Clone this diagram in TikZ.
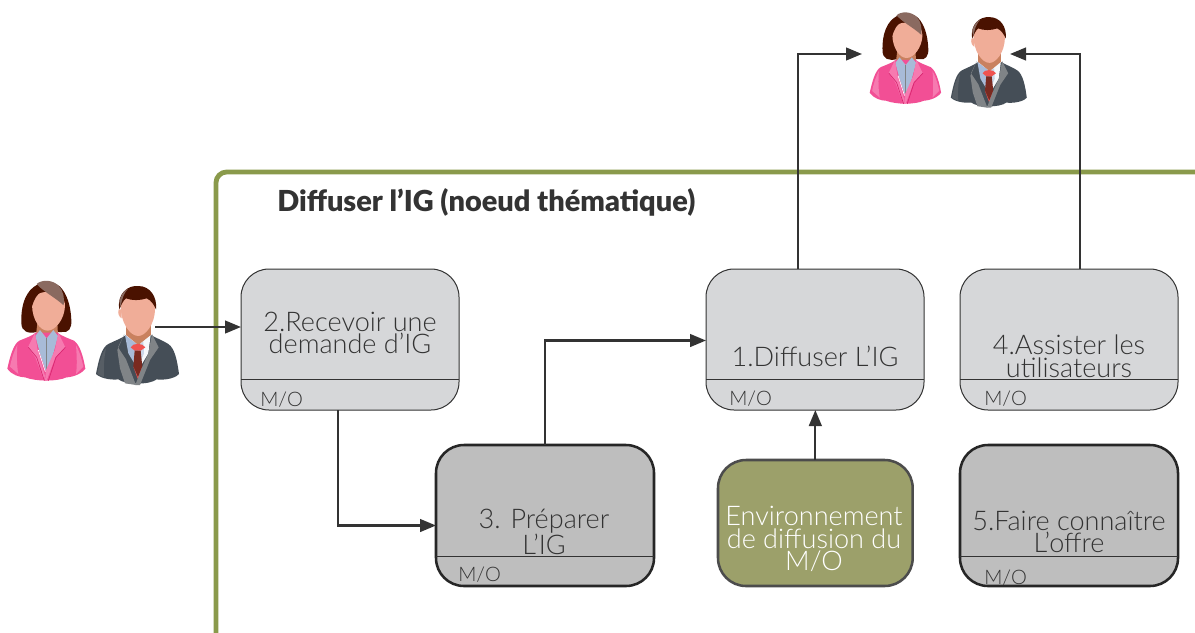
\documentclass[tikz,border=0pt]{standalone}
\usepackage{fontspec}
\setmainfont{Lato Light}[BoldFont=Lato Black]
\usetikzlibrary{arrows.meta,calc}
\definecolor{frameg}{HTML}{8A9A4B}
\definecolor{boxl}{HTML}{D6D7D9}
\definecolor{boxd}{HTML}{BEBEBE}
\definecolor{envg}{HTML}{9CA06A}
\definecolor{ink}{HTML}{333333}
\definecolor{hairw}{HTML}{4A1200}
\definecolor{hairh}{HTML}{8A6A60}
\definecolor{skin}{HTML}{F0AD98}
\definecolor{neck}{HTML}{C9815F}
\definecolor{pink}{HTML}{F24F95}
\definecolor{pinkl}{HTML}{F67AB0}
\definecolor{pinkd}{HTML}{D9246F}
\definecolor{shirt}{HTML}{A8BBD8}
\definecolor{suit}{HTML}{454E57}
\definecolor{lapel}{HTML}{808487}
\definecolor{tier}{HTML}{EF5350}
\definecolor{tied}{HTML}{7A2A20}
\newcommand\people[3]{%
\begin{scope}[shift={(#1,#2)},x=0.25pt,y=-0.25pt,scale=#3]
 % woman
 \fill[hairw] (112,44) .. controls (80,60) and (62,100) .. (64,160) .. controls (65,185) and (85,192) .. (110,186) -- (185,186) .. controls (205,190) and (216,175) .. (214,150) .. controls (212,105) and (200,70) .. (180,50) .. controls (160,32) and (130,34) .. (112,44) -- cycle;
 \fill[neck] (112,160) -- (172,160) -- (174,195) -- (140,225) -- (108,195) -- cycle;
 \fill[pink] (22,296) .. controls (30,260) and (40,222) .. (58,212) .. controls (75,205) and (95,198) .. (108,188) -- (172,188) .. controls (185,198) and (205,205) .. (222,212) .. controls (240,225) and (250,260) .. (256,296) .. controls (240,318) and (205,322) .. (200,322) .. controls (170,335) and (110,335) .. (75,322) .. controls (60,322) and (35,315) .. (22,296) -- cycle;
 \fill[shirt] (106,198) -- (120,180) -- (140,205) -- (160,180) -- (174,198) -- (160,250) -- (140,310) -- (120,250) -- cycle;
 \draw[lapel,line width=.8pt] (140,205) -- (140,300);
 \fill[pinkl] (84,232) -- (105,188) -- (112,235) -- (135,318) -- (132,332) -- (106,262) -- cycle;
 \fill[pinkl] (175,188) -- (196,232) -- (166,262) -- (140,332) -- (135,332) -- (138,300) -- (165,240) -- cycle;
 \draw[pinkd,line width=.5pt] (85,232) -- (110,262) -- (133,332);
 \draw[pinkd,line width=.5pt] (196,232) -- (168,262) -- (145,332);
 \draw[white,line width=.5pt] (115,240) -- (136,305);
 \fill[pinkl] (30,290) .. controls (36,260) and (44,240) .. (52,225) .. controls (50,255) and (50,285) .. (55,312) -- cycle;
 \fill[pinkl] (250,290) .. controls (244,260) and (236,240) .. (228,225) .. controls (230,255) and (232,285) .. (228,312) -- cycle;
 \fill[skin] (96,105) .. controls (97,85) and (110,66) .. (140,66) .. controls (180,66) and (195,85) .. (195,108) .. controls (193,150) and (165,182) .. (143,182) .. controls (120,182) and (97,150) .. (96,105) -- cycle;
 \fill[hairw] (95,112) .. controls (103,85) and (112,72) .. (125,64) -- (112,44) -- (95,70) -- cycle;
 \fill[hairh] (110,42) .. controls (125,28) and (160,28) .. (178,50) .. controls (190,62) and (194,85) .. (191,106) .. controls (165,82) and (130,65) .. (110,42) -- cycle;
 % man
 \fill[neck] (378,150) -- (452,150) -- (452,210) -- (378,210) -- cycle;
 \fill[suit] (288,312) .. controls (296,270) and (305,232) .. (325,222) .. controls (345,212) and (365,205) .. (378,195) -- (452,195) .. controls (470,205) and (490,212) .. (505,222) .. controls (525,235) and (532,275) .. (537,312) .. controls (520,330) and (480,330) .. (470,328) .. controls (450,345) and (375,345) .. (355,328) .. controls (340,330) and (305,328) .. (288,312) -- cycle;
 \fill[lapel!30!suit] (292,312) .. controls (298,280) and (305,250) .. (318,235) .. controls (312,265) and (310,295) .. (312,322) -- cycle;
 \fill[white!90!shirt] (378,195) -- (452,195) -- (445,250) -- (415,300) -- cycle;
 \fill[shirt] (375,195) -- (415,225) -- (415,300) -- (385,250) -- cycle;
 \fill[shirt!60!white] (415,225) -- (430,215) -- (432,250) -- (415,290) -- cycle;
 \fill[neck] (378,185) -- (452,185) -- (452,195) -- (415,225) -- (378,195) -- cycle;
 \fill[tier] (392,232) .. controls (398,218) and (428,218) .. (436,232) -- (422,242) -- (404,242) -- cycle;
 \fill[tied] (404,242) -- (422,242) -- (427,290) -- (414,322) -- (400,290) -- cycle;
 \fill[tier] (400,290) -- (414,322) -- (427,290) -- (414,328) -- cycle;
 \fill[lapel] (373,192) -- (354,232) -- (378,268) -- (408,345) -- (375,340) -- (360,295) -- (352,240) -- cycle;
 \fill[lapel] (456,192) -- (476,232) -- (450,270) -- (420,345) -- (406,345) -- (425,295) -- (445,250) -- cycle;
 \fill[skin] (362,105) .. controls (365,80) and (385,65) .. (415,70) .. controls (450,70) and (465,90) .. (465,115) .. controls (465,165) and (435,198) .. (415,198) .. controls (390,198) and (362,160) .. (362,105) -- cycle;
 \fill[skin] (356,118) .. controls (352,130) and (358,142) .. (365,145) -- (365,118) -- cycle;
 \fill[hairw] (358,118) .. controls (350,70) and (385,45) .. (415,48) .. controls (450,48) and (472,80) .. (468,118) .. controls (462,105) and (455,92) .. (440,85) .. controls (420,92) and (395,92) .. (378,85) .. controls (370,90) and (364,105) .. (358,118) -- cycle;
 \fill[hairh] (358,95) .. controls (362,75) and (372,62) .. (384,56) .. controls (372,70) and (366,85) .. (362,110) -- cycle;
\end{scope}}
\tikzset{
 box/.style={draw=#1,rectangle,rounded corners=21pt,inner sep=0pt,outer sep=0pt,anchor=north west},
 lightbox/.style={box=ink,fill=boxl,line width=.75pt,minimum width=163.5pt,minimum height=105.75pt},
 darkbox/.style={box=black!85,fill=boxd,line width=1.9pt,minimum width=163.5pt,minimum height=105.75pt},
 envbox/.style={box=black!70,fill=envg,line width=1.9pt,minimum width=146pt,minimum height=94.5pt},
 lab/.style={font=\fontsize{20.3}{17}\selectfont,text=ink,align=center,inner sep=0pt,anchor=center},
 mo/.style={font=\fontsize{15}{15}\selectfont,text=ink,inner sep=0pt,anchor=west},
 divline/.style={draw=ink,line width=.6pt},
 conn/.style={draw=ink,line width=1.7pt,-{Triangle[length=12pt,width=9.5pt]}},
}
\begin{document}
\begin{tikzpicture}[x=0.75pt,y=-0.75pt]
\useasboundingbox (0,0) rectangle (1195,632);
\fill[white] (0,0) rectangle (1195,632);
\draw[frameg,line width=3.6pt,rounded corners=8pt] (216,640) -- (216,172) -- (1200,172);
\node[font=\fontsize{21.7}{22}\bfseries\selectfont,text=ink,anchor=west,inner sep=0pt] (title) at (277,202) {Diffuser l’IG (noeud thématique)};

\node[lightbox] (b2) at (241,269) {};
\node[lightbox] (b1) at (706,269) {};
\node[lightbox] (b4) at (960,269) {};
\node[darkbox] (b3) at (436,445) {};
\node[darkbox] (b5) at (960,445) {};
\node[envbox] (env) at (718,460) {};

\draw[divline] (241,379) -- (459,379);
\draw[divline] (706,379) -- (924,379);
\draw[divline] (960,379) -- (1178,379);
\draw[divline] (436,556) -- (654,556);
\draw[divline] (960,556) -- (1178,556);

\node[lab] (t2) at (350,333) {2.Recevoir une\\demande d’IG};
\node[lab] (t1) at (815,356) {1.Diffuser L’IG};
\node[lab] (t4) at (1069,356) {4.Assister les\\utilisateurs};
\node[lab] (t3) at (544,532) {3. Préparer\\L’IG};
\node[lab] (t5) at (1069,532) {5.Faire connaître\\L’offre};
\node[lab,text=white] (te) at (814,539) {Environnement\\de diffusion du\\M/O};
\node[mo] (m2) at (260,400) {M/O};
\node[mo] (m1) at (729,399) {M/O};
\node[mo] (m4) at (984,399) {M/O};
\node[mo] (m3) at (458,575) {M/O};
\node[mo] (m5) at (984,578) {M/O};

\people{0}{270}{1}
\people{863}{2.5}{.915}

\coordinate (src) at (155,327);
\coordinate (w) at (862,54);
\coordinate (m) at (1010,54);
\draw[conn] (src) -- (src -| b2.west);
\draw[conn] ($(b2.south)+(-12,0)$) |- ($(b3.west)+(0,10)$);
\draw[conn] (b3.north) |- ($(b1.west)+(0,1)$);
\draw[conn] (env.north) -- (env.north |- b1.south);
\draw[conn] ($(b1.north)+(-17,0)$) |- (w);
\draw[conn] ($(b4.north)+(11,0)$) |- (m);
\end{tikzpicture}
\end{document}
